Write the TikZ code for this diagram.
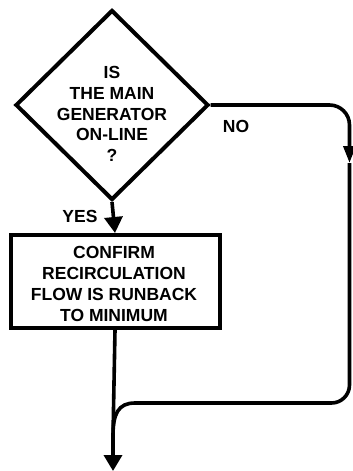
\documentclass[tikz,border=0pt]{standalone}
\usepackage{fontspec}
\setmainfont{Liberation Sans}
\usetikzlibrary{shapes.geometric,arrows.meta}
\begin{document}
\begin{tikzpicture}[x=1pt,y=-1pt,
  lbl/.style={font=\fontsize{17.5}{20.8}\selectfont\bfseries, inner sep=0pt, align=center},
  flow/.style={draw, line width=3.6pt},
  tipbig/.style={-{Triangle[width=18pt,length=16pt]}},
  tipsmall/.style={-{Triangle[width=12pt,length=17pt]}}]
\useasboundingbox (0,0) rectangle (353,471);
% decision diamond
\node[draw, diamond, line width=4pt, minimum width=193pt, minimum height=190pt, inner sep=0pt] (dec) at (112,105) {};
\node[lbl] (dectext) at (112,114) {IS\\THE MAIN\\GENERATOR\\ON-LINE\\?};
% action box
\node[draw, rectangle, line width=4pt, minimum width=209pt, minimum height=93pt, inner sep=0pt] (box) at (115,281.5) {};
\node[lbl] (boxtext) at (114,284) {CONFIRM\\RECIRCULATION\\FLOW IS RUNBACK\\TO MINIMUM};
% labels
\node[lbl] (yes) at (80,216) {YES};
\node[lbl] (no) at (236,126) {NO};
% coordinates
\coordinate (noarr) at (349.5,163);
\coordinate (jn) at (135,403);
\coordinate (merge) at (113,436);
\coordinate (bottom) at (113,471);
% YES branch
\draw[flow, tipbig] (dec.south) -- (box.north);
% main line down
\draw[flow] (box.south) -- (merge);
\draw[flow, tipbig] (merge) -- (bottom);
% NO branch
\draw[flow, tipsmall, rounded corners=20pt] (dec.east) -| (noarr);
\draw[flow, rounded corners=18pt] (noarr) |- (jn);
\draw[flow] (jn) .. controls (118,403) and (113,414) .. (merge);
\end{tikzpicture}
\end{document}
